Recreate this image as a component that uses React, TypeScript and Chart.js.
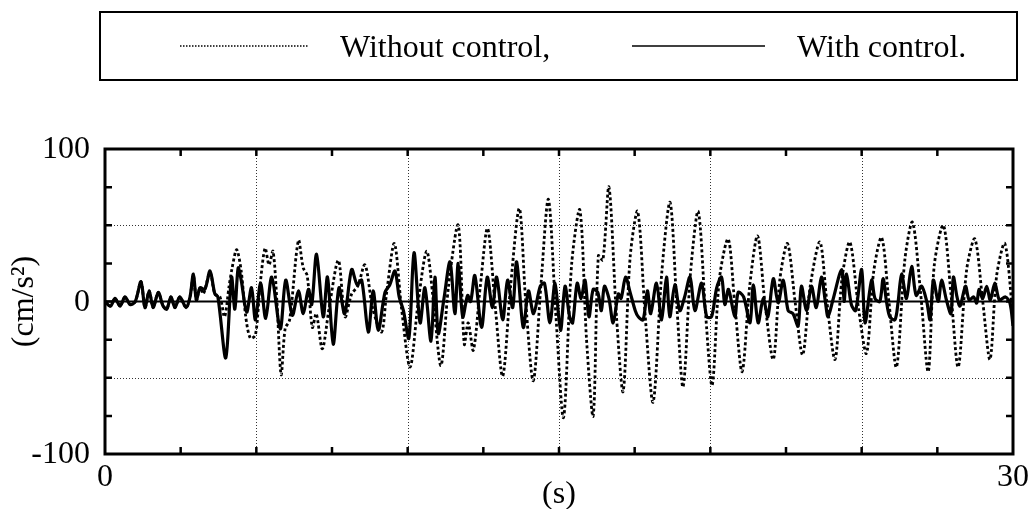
import React, { useEffect, useRef } from "react";
import { Chart, registerables } from "chart.js";

Chart.register(...registerables);

// Time (s) and acceleration (cm/s^2)
const tWithout = [
  0, 0.18, 0.33, 0.5, 0.66, 0.83, 1.0, 1.19, 1.32, 1.46, 1.59, 1.76, 1.92, 2.04, 2.18, 2.31, 2.47, 2.68, 2.81,
  2.92, 3.02, 3.14, 3.25, 3.47, 3.63, 3.8, 3.95, 4.1, 4.2, 4.35, 4.5, 4.65, 4.8, 4.97, 5.12, 5.29, 5.42, 5.55,
  5.68, 5.82, 5.95, 6.1, 6.39, 6.55, 6.68, 6.85, 6.98, 7.18, 7.4, 7.71, 7.93, 8.15, 8.35, 8.59, 8.85, 9.14, 9.3,
  9.56, 9.8, 10.08, 10.35, 10.63, 10.85, 11.1, 11.35, 11.67, 11.87, 12.0, 12.17, 12.4, 12.64, 12.9, 13.14, 13.4,
  13.69, 13.9, 14.15, 14.4, 14.65, 14.9, 15.15, 15.42, 15.69, 15.91, 16.13, 16.3, 16.45, 16.65, 16.9, 17.12,
  17.35, 17.6, 17.85, 18.11, 18.4, 18.67, 18.9, 19.1, 19.35, 19.6, 19.85, 20.06, 20.3, 20.59, 20.8, 21.05, 21.3,
  21.56, 21.8, 22.08, 22.3, 22.55, 22.8, 23.05, 23.3, 23.62, 23.85, 24.12, 24.35, 24.61, 24.9, 25.16, 25.4,
  25.66, 25.9, 26.15, 26.43, 26.68, 26.95, 27.2, 27.4, 27.7, 27.95, 28.19, 28.47, 28.74, 29.0, 29.24, 29.46,
  29.73, 30.0,
];
const withoutControl = [
  0, -3, 2, -3, 3, -2, 0, 13, -4, 7, -4, 6, -3, -5, 3, -4, 3, -4, 3,
  17, 1, 9, 5, 19, 5, 3, -10, 10, 22, 34, 20, -10, -24, -22, 10, 35, 24, 33,
  0, -48, -18, -12, 40, 22, 17, -17, -8, -31, -5, 27, -10, 5, 10, 24, -5, -20, 5,
  38, -5, -43, 0, 33, 0, -42, 10, 50, -28, -14, -32, 10, 48, -5, -49, 10,
  61, 0, -52, 10, 67, -10, -76, 25, 60, -25, -75, 30, 27, 75, -10, -59,
  29, 59, -10, -66, 20, 65, -5, -56, 20, 59, -10, -55, 15, 41, 0, -46, 10,
  43, 0, -38, 15, 38, 0, -35, 10, 39, 0, -38, 15, 39, -5, -34, 20,
  42, 0, -43, 28, 52, 5, -46, 24, 50, 5, -43, 21, 41, 0, -38, 17,
  38, -10,
];

const tWith = [
  0, 0.18, 0.33, 0.5, 0.66, 0.83, 1.0, 1.19, 1.32, 1.46, 1.59, 1.76, 1.92, 2.04, 2.18, 2.31, 2.47, 2.68, 2.81,
  2.92, 3.02, 3.14, 3.3, 3.47, 3.63, 3.73, 3.99, 4.18, 4.29, 4.4, 4.5, 4.68, 4.84, 4.97, 5.14, 5.31, 5.51, 5.79,
  5.97, 6.19, 6.39, 6.55, 6.72, 6.83, 6.99, 7.21, 7.35, 7.54, 7.73, 7.92, 8.15, 8.33, 8.48, 8.7, 8.86, 9.03, 9.25,
  9.41, 9.58, 9.72, 9.86, 10.04, 10.21, 10.41, 10.57, 10.77, 10.9, 11.01, 11.2, 11.4, 11.56, 11.67, 11.82, 11.98,
  12.08, 12.22, 12.44, 12.63, 12.8, 12.94, 13.14, 13.3, 13.47, 13.6, 13.82, 13.99, 14.16, 14.38, 14.52, 14.7,
  14.87, 15.05, 15.2, 15.35, 15.45, 15.6, 15.73, 15.86, 15.99, 16.13, 16.28, 16.4, 16.5, 16.65, 16.79, 16.96,
  17.05, 17.2, 17.35, 17.52, 17.62, 17.78, 17.92, 18.03, 18.22, 18.39, 18.55, 18.66, 18.83, 18.99, 19.15, 19.33,
  19.49, 19.71, 19.88, 20.04, 20.21, 20.37, 20.48, 20.6, 20.81, 20.92, 21.1, 21.31, 21.42, 21.58, 21.75, 21.9,
  22.08, 22.24, 22.41, 22.57, 22.73, 22.9, 23.01, 23.18, 23.34, 23.5, 23.67, 23.8, 23.89, 24.05, 24.34, 24.42,
  24.5, 24.66, 24.8, 25.0, 25.11, 25.33, 25.44, 25.6, 25.71, 25.82, 25.93, 26.1, 26.2, 26.32, 26.48, 26.65,
  26.8, 26.98, 27.15, 27.26, 27.37, 27.53, 27.64, 27.8, 27.95, 28.03, 28.15, 28.25, 28.43, 28.55, 28.7, 28.8,
  28.88, 29.0, 29.13, 29.25, 29.4, 29.55, 29.75, 29.9, 30.0,
];
const withControl = [
  0, -3, 2, -3, 3, -2, 0, 13, -4, 7, -4, 6, -3, -5, 3, -4, 3, -4, 3,
  18, 1, 9, 8, 20, 5, 3, -37, 16, -5, 22, 14, -7, 9, -12, 12, -11, 16, -18,
  14, -9, 7, -8, 8, -2, 31, -10, 16, -28, 9, -8, 21, 11, 14, -20, 7, -19, 6,
  11, 20, 3, -6, -24, 32, -14, 9, -26, 16, -21, 2, 26, -8, 25, -10, 4,
  0, 17, -17, 16, -4, 16, -12, 14, -4, 26, -17, 7, -8, 10, 12, -14,
  12, -19, 10, -10, -14, 12, 2, 14, -10, 8, 6, -6, 10, 2, -14, 5,
  2, 16, 6, -6, -10, -12, 7, -8, 12, -12, 16, -10, 11, -6, 3, 16,
  -6, 12, -10, -10, 9, 16, -2, 8, -10, 6, 3, -14, 11, -14, 2, -10,
  15, -1, 14, -6, -8, -16, 10, -6, 10, -4, 16, 0, -10, 1, 21, 0,
  18, -2, -6, 21, -14, 14, 2, 0, 15, 0, -10, -12, -1, 18, 2, 23,
  4, 10, 0, -12, 14, 0, 14, 1, -8, 16, 3, -3, 10, 1, 3, -1,
  8, 2, 10, 1, 12, 1, 3, -1, -16,
];

const xTickLabels = ["0", "30"];
const yTickLabels = ["100", "0", "-100"];
const legendLabels = ["Without control,", "With control."];
const xTitle = "(s)";
const yTitle = "(cm/s²)";

const FONT = '32px "Liberation Serif", "Times New Roman", serif';

const decor = {
  id: "decor",
  beforeDatasetsDraw(chart: any) {
    const { ctx, chartArea, scales } = chart;
    const { left, right, top, bottom } = chartArea;
    const x = scales.x, y = scales.y;
    ctx.save();
    ctx.strokeStyle = "#333";
    ctx.lineWidth = 1;
    ctx.setLineDash([1, 2]);
    for (const v of [5, 10, 15, 20, 25]) {
      const px = Math.round(x.getPixelForValue(v)) + 0.5;
      ctx.beginPath();
      ctx.moveTo(px, top);
      ctx.lineTo(px, bottom);
      ctx.stroke();
    }
    for (const v of [50, -50]) {
      const py = Math.round(y.getPixelForValue(v)) + 0.5;
      ctx.beginPath();
      ctx.moveTo(left, py);
      ctx.lineTo(right, py);
      ctx.stroke();
    }
    ctx.setLineDash([]);
    ctx.strokeStyle = "#000";
    ctx.lineWidth = 2;
    const p0 = y.getPixelForValue(0);
    ctx.beginPath();
    ctx.moveTo(left, p0);
    ctx.lineTo(right, p0);
    ctx.stroke();
    ctx.restore();
  },
  afterDraw(chart: any) {
    const { ctx, chartArea, scales } = chart;
    const { left, right, top, bottom } = chartArea;
    const x = scales.x, y = scales.y;
    ctx.save();
    ctx.setLineDash([]);
    ctx.strokeStyle = "#000";
    ctx.lineWidth = 2.5;
    const tl = 7;
    for (let v = 2.5; v < 30; v += 2.5) {
      const px = x.getPixelForValue(v);
      ctx.beginPath();
      ctx.moveTo(px, bottom);
      ctx.lineTo(px, bottom - tl);
      ctx.moveTo(px, top);
      ctx.lineTo(px, top + tl);
      ctx.stroke();
    }
    for (let v = -75; v <= 75; v += 25) {
      const py = y.getPixelForValue(v);
      ctx.beginPath();
      ctx.moveTo(left, py);
      ctx.lineTo(left + tl, py);
      ctx.moveTo(right, py);
      ctx.lineTo(right - tl, py);
      ctx.stroke();
    }
    ctx.lineWidth = 3;
    ctx.strokeRect(left, top, right - left, bottom - top);

    ctx.fillStyle = "#000";
    ctx.font = FONT;
    ctx.textAlign = "right";
    ctx.textBaseline = "middle";
    const yVals = [100, 0, -100];
    yTickLabels.forEach((lab, i) => {
      ctx.fillText(lab, 90, y.getPixelForValue(yVals[i]) + 1);
    });
    ctx.textAlign = "center";
    ctx.textBaseline = "alphabetic";
    const xVals = [0, 30];
    xTickLabels.forEach((lab, i) => {
      ctx.fillText(lab, x.getPixelForValue(xVals[i]), 486);
    });
    ctx.fillText(xTitle, x.getPixelForValue(15), 503);
    ctx.save();
    ctx.translate(33, y.getPixelForValue(0));
    ctx.rotate(-Math.PI / 2);
    ctx.textAlign = "center";
    ctx.textBaseline = "alphabetic";
    ctx.fillText(yTitle, 0, 0);
    ctx.restore();

    // legend box
    ctx.lineWidth = 2;
    ctx.strokeRect(100, 12, 917, 68);
    ctx.lineWidth = 1.5;
    ctx.setLineDash([1.5, 1.5]);
    ctx.beginPath();
    ctx.moveTo(180, 46);
    ctx.lineTo(308, 46);
    ctx.stroke();
    ctx.setLineDash([]);
    ctx.beginPath();
    ctx.moveTo(632, 46);
    ctx.lineTo(765, 46);
    ctx.stroke();
    ctx.textAlign = "left";
    ctx.fillText(legendLabels[0], 340, 57);
    ctx.fillText(legendLabels[1], 797, 57);
    ctx.restore();
  },
};

export default function App() {
  const ref = useRef<HTMLCanvasElement | null>(null);
  useEffect(() => {
    if (!ref.current) return;
    const chart = new Chart(ref.current, {
      type: "line",
      data: {
        datasets: [
          {
            label: legendLabels[1],
            data: tWith.map((t, i) => ({ x: t, y: withControl[i] })),
            borderColor: "#000",
            borderWidth: 3.2,
            pointRadius: 0,
            tension: 0.3,
            order: 0,
          },
          {
            label: legendLabels[0],
            data: tWithout.map((t, i) => ({ x: t, y: withoutControl[i] })),
            borderColor: "#000",
            borderWidth: 2.8,
            borderDash: [3, 2.5],
            pointRadius: 0,
            tension: 0.3,
            order: 1,
          },
        ],
      },
      options: {
        animation: false,
        responsive: false,
        maintainAspectRatio: false,
        layout: { padding: { left: 105, top: 149, right: 22, bottom: 55 } },
        plugins: { legend: { display: false }, tooltip: { enabled: false } },
        scales: {
          x: { type: "linear", min: 0, max: 30, display: false },
          y: { type: "linear", min: -100, max: 100, display: false },
        },
      },
      plugins: [decor],
    });
    return () => chart.destroy();
  }, []);
  return (
    <div style={{ position: "absolute", left: 0, top: 0, width: 1035, height: 509, background: "#fff" }}>
      <canvas ref={ref} width={1035} height={509} style={{ display: "block" }} />
    </div>
  );
}
